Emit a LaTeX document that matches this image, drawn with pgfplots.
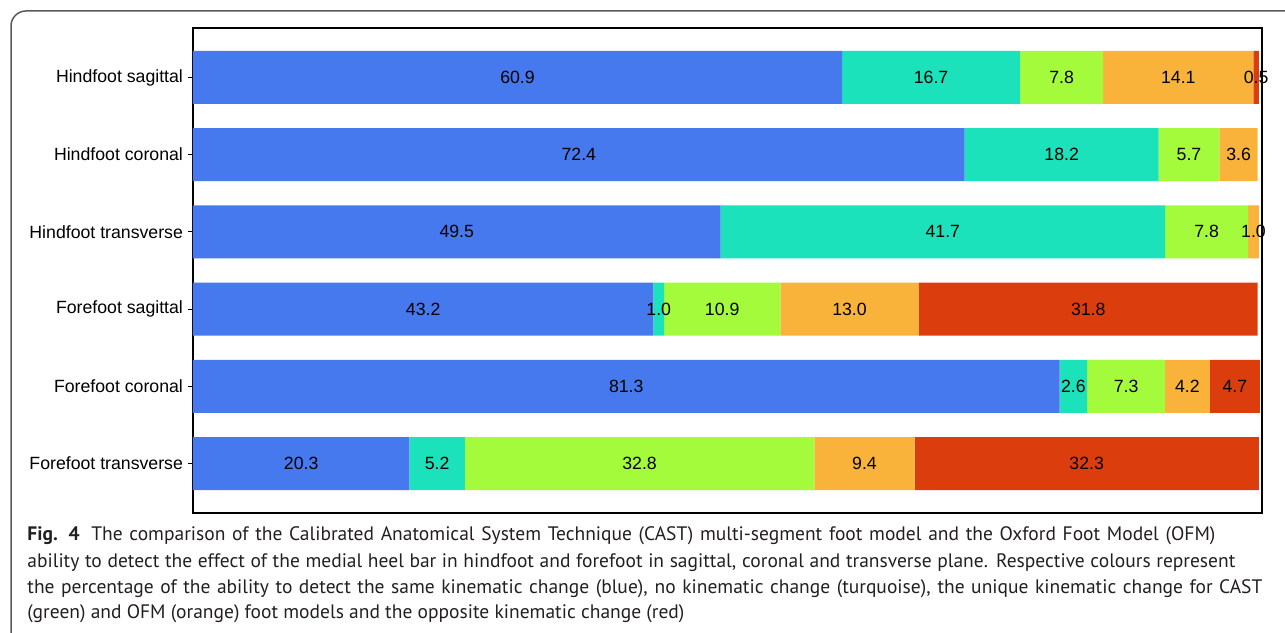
\documentclass[border=0pt]{standalone}
\usepackage{pgfplots}
\pgfplotsset{compat=1.18}
\usepackage{pgfplotstable}
\usepackage{fontspec}
\setmainfont{Liberation Sans}
\newfontfamily\capfont{PT Sans}

\definecolor{cblue}{HTML}{4779EE}
\definecolor{cturq}{HTML}{1BE2BA}
\definecolor{cgreen}{HTML}{A4FB3C}
\definecolor{corange}{HTML}{F9B33A}
\definecolor{cred}{HTML}{DC3D0C}
\definecolor{captxt}{HTML}{231F20}

% percentage per category: same change, no change, CAST only, OFM only, opposite
\pgfplotstableread{
row same none cast ofm opp
0 60.9 16.7 7.8 14.1 0.5
1 72.4 18.2 5.7 3.6 0
2 49.5 41.7 7.8 1.0 0
3 43.2 1.0 10.9 13.0 31.8
4 81.3 2.6 7.3 4.2 4.7
5 20.3 5.2 32.8 9.4 32.3
}\footdata

\newcommand\labfont{\fontsize{8.85}{10}\selectfont}

\begin{document}
\begin{tikzpicture}
\useasboundingbox (0,0) rectangle (642.5pt,316pt);
\draw[black!65, line width=0.75pt, rounded corners=7.5pt]
  (5.5pt,-5pt) -- (5.5pt,310.5pt) -- (660pt,310.5pt);

\begin{axis}[
  at={(96.5pt,59.5pt)}, anchor=south west,
  scale only axis, width=534.5pt, height=242.5pt,
  xbar stacked, bar width=26.5pt,
  xmin=0, xmax=100.3,
  ymin=-0.64, ymax=5.64, y dir=reverse,
  xtick=\empty,
  ytick={0,...,5}, ytick pos=left,
  yticklabels={Hindfoot sagittal, Hindfoot coronal, Hindfoot transverse,
    Forefoot sagittal, Forefoot coronal, Forefoot transverse},
  tick align=outside, major tick length=2.5pt,
  ytick style={black, line width=0.6pt},
  yticklabel style={font=\labfont, xshift=1pt},
  axis line style={black, line width=0.8pt},
  point meta=explicit,
  nodes near coords={\pgfmathfloatifflags{\pgfplotspointmeta}{0}{}{%
    \pgfmathprintnumber[fixed,fixed zerofill,precision=1,assume math mode=true]{\pgfplotspointmeta}}},
  nodes near coords align=center,
  every node near coord/.append style={
    font=\labfont, text=black, anchor=center, inner sep=0pt},
]
\addplot[fill=cblue, draw=none] table[x=same, y=row, meta=same] {\footdata};
\addplot[fill=cturq, draw=none] table[x=none, y=row, meta=none] {\footdata};
\addplot[fill=cgreen, draw=none] table[x=cast, y=row, meta=cast] {\footdata};
\addplot[fill=corange, draw=none] table[x=ofm, y=row, meta=ofm] {\footdata};
\addplot[fill=cred, draw=none] table[x=opp, y=row, meta=opp] {\footdata};
\end{axis}

\begin{scope}[every node/.style={anchor=base west, inner sep=0pt, text=captxt,
    font=\capfont\fontsize{9.75}{11}\selectfont}]
\node at (13.5pt,45.5pt) {\makebox[594pt][s]{\textbf{Fig. 4}\hspace{0.6em}The comparison of the Calibrated Anatomical System Technique (CAST) multi-segment foot model and the Oxford Foot Model (OFM)}};
\node at (13.5pt,32.2pt) {\makebox[604pt][s]{ability to detect the effect of the medial heel bar in hindfoot and forefoot in sagittal, coronal and transverse plane. Respective colours represent}};
\node at (13.5pt,19.5pt) {\makebox[617.5pt][s]{the percentage of the ability to detect the same kinematic change (blue), no kinematic change (turquoise), the unique kinematic change for CAST}};
\node at (13.5pt,7pt) {(green) and OFM (orange) foot models and the opposite kinematic change (red)};
\end{scope}
\end{tikzpicture}
\end{document}
